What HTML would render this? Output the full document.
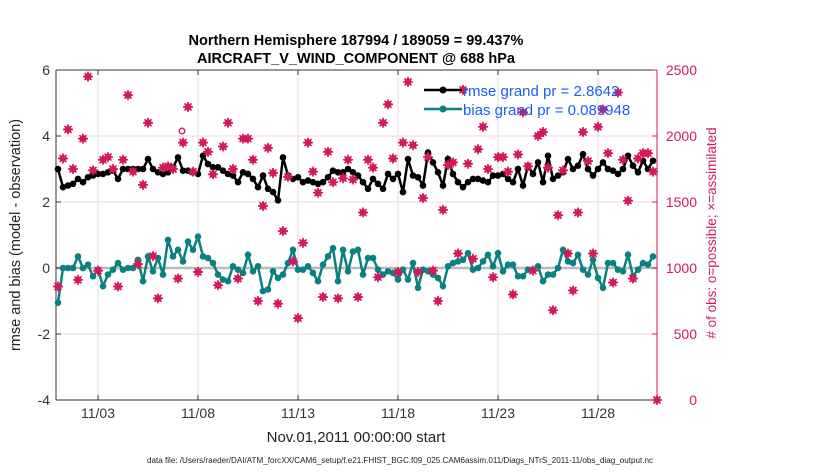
<!DOCTYPE html>
<html><head><meta charset="utf-8"><style>
body{margin:0;background:#fff;}
svg{font-family:"Liberation Sans",sans-serif;}
</style></head><body>
<svg id="c" width="830" height="470" xmlns="http://www.w3.org/2000/svg"></svg>
<script>
const rmse=[3.0,2.45,2.5,2.55,2.7,2.6,2.75,2.8,2.85,2.85,2.9,2.95,2.7,3.0,3.0,3.0,3.0,3.0,3.3,3.0,2.9,2.85,2.9,3.05,3.35,2.95,2.95,2.9,2.85,3.4,3.15,3.05,3.05,2.95,2.85,2.8,2.6,2.9,2.85,2.7,2.45,2.8,2.4,2.3,2.05,3.35,2.8,2.7,2.75,2.6,2.65,2.6,2.55,2.6,2.75,2.95,2.9,2.9,3.0,2.9,2.8,2.6,2.4,2.7,2.55,2.4,2.85,2.7,2.85,2.3,3.3,2.8,2.75,2.5,3.5,3.2,2.9,2.5,3.3,2.85,2.6,2.45,2.6,2.7,2.7,2.65,2.6,2.8,2.8,2.85,2.7,2.6,3.0,2.5,3.1,2.85,3.2,2.6,3.4,2.7,2.8,2.9,3.3,3.0,3.1,3.45,3.0,2.8,3.0,3.2,3.0,2.95,2.85,3.0,3.4,3.1,2.9,3.25,3.0,3.25];
const bias=[-1.05,0.0,0.0,0.0,0.35,0.0,0.1,-0.25,-0.05,-0.55,-0.2,-0.05,0.15,-0.05,0.0,0.0,0.25,-0.4,0.35,-0.1,0.3,-0.2,0.85,0.35,0.55,0.2,0.8,0.55,0.95,0.35,0.3,0.15,-0.2,-0.35,-0.4,0.05,-0.05,-0.15,0.4,-0.1,0.05,-0.7,-0.65,-0.1,-0.3,-0.2,0.15,0.55,-0.05,-0.05,0.05,-0.15,-0.4,0.1,0.35,0.6,-0.4,0.55,-0.1,0.5,0.55,-0.2,0.3,0.3,-0.05,-0.2,-0.1,-0.15,-0.35,-0.05,-0.35,0.15,-0.6,-0.05,-0.1,-0.2,-0.3,-0.55,0.05,0.15,0.2,0.25,0.45,-0.05,0.0,0.2,0.4,0.05,0.45,-0.1,0.1,0.1,-0.25,-0.25,-0.05,-0.05,0.05,-0.4,-0.2,-0.2,0.0,0.55,0.2,0.15,0.4,-0.05,-0.2,0.25,-0.3,-0.6,0.15,0.15,-0.05,-0.1,0.4,-0.25,-0.05,0.15,0.1,0.35];
const possible=[860,1830,2050,1750,910,1980,2450,1740,980,1820,1840,1750,860,1820,2310,1730,1030,1630,2100,1090,770,1760,1770,1750,920,1950,2220,1730,970,1950,1880,1710,870,1920,2100,1750,920,1980,1980,1820,750,1470,1910,1720,730,1280,1690,1050,620,1190,1950,1730,1570,780,1880,1650,770,1680,1820,1670,780,1420,1820,1760,930,2100,2240,1830,970,1950,2410,1930,970,1530,1840,980,750,1440,1780,1800,1110,2350,1790,1070,1900,2070,1750,930,1840,1840,1730,800,1860,2180,1770,980,2000,2030,1760,680,1400,1740,1110,830,1420,2030,1810,1110,2070,2200,1870,890,2330,1820,1510,920,1830,1870,1870,1730];
const xLabels=["11/03","11/08","11/13","11/18","11/23","11/28"];
const xLabelDays=[2,7,12,17,22,27];
const leftTicks=[-4,-2,0,2,4,6];
const rightTicks=[0,500,1000,1500,2000,2500];

const svg=document.getElementById('c');const NS="http://www.w3.org/2000/svg";
const L=56,R=657,T=70,B=400;
const X=d=>58+d*20;
const Y=v=>T+(6-v)*(B-T)/10;
const Y2=v=>B-v*(B-T)/2500;
function el(t,a,p){const e=document.createElementNS(NS,t);for(const k in a)e.setAttribute(k,a[k]);(p||svg).appendChild(e);return e;}
function tx(x,y,s,a,name){const e=el('text',a);e.textContent=s;e.setAttribute('x',x);e.setAttribute('y',y);


return e;}
leftTicks.forEach(v=>{const g=el('line',{x1:L,x2:R,y1:Y(v),y2:Y(v),stroke:'#f0d5de','stroke-width':1});

});
xLabelDays.forEach((d,i)=>{const g=el('line',{x1:X(d),x2:X(d),y1:T,y2:B,stroke:'#dcdcdc','stroke-width':1});


el('line',{x1:X(d),x2:X(d),y1:B,y2:B-5,stroke:'#333'});
el('line',{x1:X(d),x2:X(d),y1:T,y2:T+5,stroke:'#333'});
tx(X(d),418,xLabels[i],{'font-size':14,'text-anchor':'middle',fill:'#333'},'x-tick-label');});
const z=el('line',{x1:L,x2:R,y1:Y(0),y2:Y(0),stroke:'#bbb','stroke-width':2.5});


el('line',{x1:L,x2:R,y1:T,y2:T,stroke:'#333'});
el('line',{x1:L,x2:R,y1:B,y2:B,stroke:'#333'});
el('line',{x1:L,x2:L,y1:T,y2:B,stroke:'#333'});
el('line',{x1:R,x2:R,y1:T,y2:B,stroke:'#d41a5c'});
leftTicks.forEach(v=>{el('line',{x1:L,x2:L+5,y1:Y(v),y2:Y(v),stroke:'#333'});
tx(L-6,Y(v)+5,String(v),{'font-size':14,'text-anchor':'end',fill:'#333'},'left-tick-label');});
rightTicks.forEach(v=>{el('line',{x1:R,x2:R-5,y1:Y2(v),y2:Y2(v),stroke:'#d41a5c'});
tx(697,Y2(v)+5,String(v),{'font-size':14,'text-anchor':'end',fill:'#d41a5c'},'right-tick-label');});
function series(vals,color,name){const pts=vals.map((v,i)=>X(i*0.25)+','+Y(v)).join(' ');
const p=el('polyline',{points:pts,fill:'none',stroke:color,'stroke-width':2.5});


vals.forEach((v,i)=>{const c=el('circle',{cx:X(i*0.25),cy:Y(v),r:3.3,fill:color});

});}
series(rmse,'#000','rmse');
series(bias,'#0a8080','bias');
function star(x,y,name){const g=el('g',{});


el('path',{d:`M${x-5},${y}H${x+5}M${x},${y-5}V${y+5}M${x-3.5},${y-3.5}L${x+3.5},${y+3.5}M${x-3.5},${y+3.5}L${x+3.5},${y-3.5}`,stroke:'#d41a5c','stroke-width':1.6},g);
el('path',{d:`M${x},${y-4.5}L${x+4.5},${y}L${x},${y+4.5}L${x-4.5},${y}Z`,fill:'#d41a5c'},g);}
possible.forEach((v,i)=>star(X(i*0.25),Y2(v),'obs-count-point'));
star(R,Y2(0),'obs-count-point');
const oc=el('circle',{cx:182,cy:131,r:2.8,fill:'none',stroke:'#d41a5c','stroke-width':1.3});


// legend
el('line',{x1:424,x2:462,y1:90,y2:90,stroke:'#000','stroke-width':2.5});el('circle',{cx:443,cy:90,r:3.5,fill:'#000'});
el('line',{x1:424,x2:462,y1:109,y2:109,stroke:'#0a8080','stroke-width':2.5});el('circle',{cx:443,cy:109,r:3.5,fill:'#0a8080'});
tx(463,96,'rmse grand pr = 2.8642',{'font-size':15,fill:'#1a5cff'},'legend-rmse');
tx(463,115,'bias grand pr = 0.089948',{'font-size':15,fill:'#1a5cff'},'legend-bias');
tx(356,45,'Northern Hemisphere 187994 / 189059 = 99.437%',{'font-size':14.5,'font-weight':'bold','text-anchor':'middle'},'chart-title');
tx(356,63,'AIRCRAFT_V_WIND_COMPONENT @ 688 hPa',{'font-size':14.5,'font-weight':'bold','text-anchor':'middle'},'chart-subtitle');
tx(356,442,'Nov.01,2011 00:00:00 start',{'font-size':15,'text-anchor':'middle',fill:'#222'},'x-axis-title');
tx(20,235,'rmse and bias (model - observation)',{'font-size':14.5,'text-anchor':'middle',fill:'#222',transform:'rotate(-90 20 235)'},'y-axis-title');
tx(716,233,'# of obs: o=possible; \u00d7=assimilated',{'font-size':13.5,'text-anchor':'middle',fill:'#d41a5c',transform:'rotate(-90 716 233)'},'right-axis-title');
tx(400,463,'data file: /Users/raeder/DAI/ATM_forcXX/CAM6_setup/f.e21.FHIST_BGC.f09_025.CAM6assim.011/Diags_NTrS_2011-11/obs_diag_output.nc',{'font-size':8,'text-anchor':'middle',fill:'#222','textLength':506,'lengthAdjust':'spacingAndGlyphs'},'data-file-note');
</script>
</body></html>
